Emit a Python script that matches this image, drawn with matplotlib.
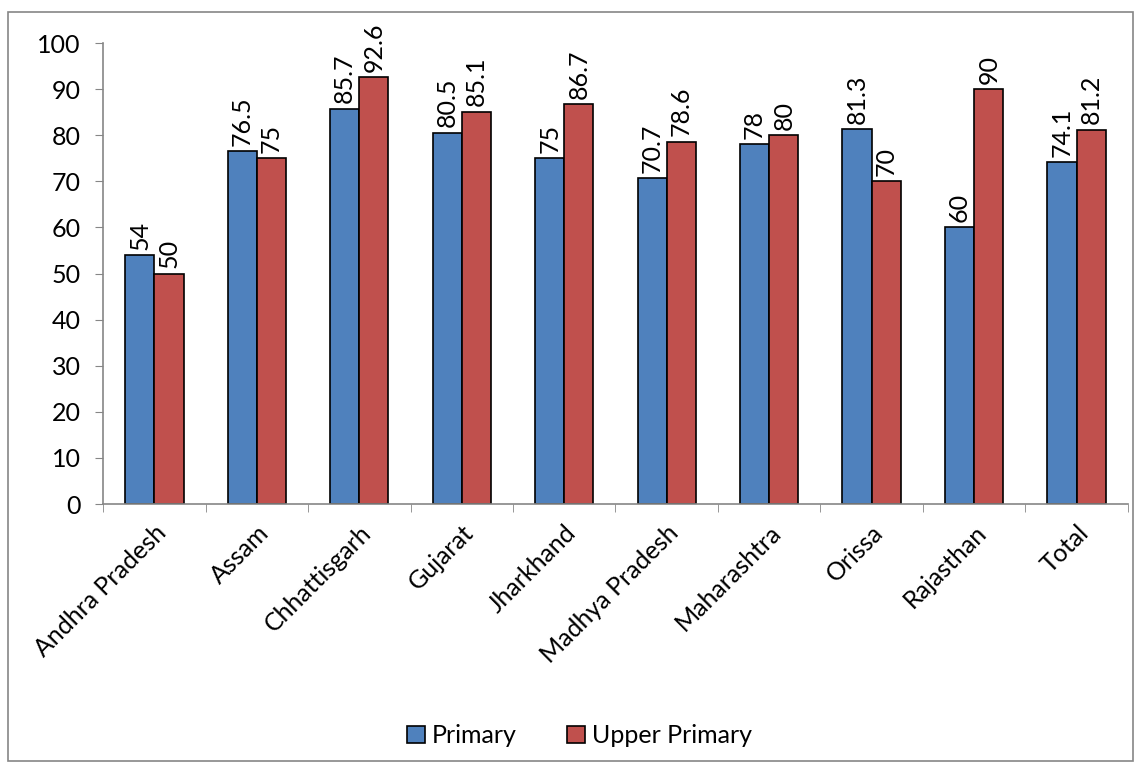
import matplotlib
matplotlib.use("Agg")
import matplotlib.pyplot as plt
import numpy as np
from matplotlib.patches import Rectangle

states = ["Andhra Pradesh", "Assam", "Chhattisgarh", "Gujarat", "Jharkhand",
          "Madhya Pradesh", "Maharashtra", "Orissa", "Rajasthan", "Total"]
primary = [54, 76.5, 85.7, 80.5, 75, 70.7, 78, 81.3, 60, 74.1]
upper_primary = [50, 75, 92.6, 85.1, 86.7, 78.6, 80, 70, 90, 81.2]
yticks = list(range(0, 101, 10))

plt.rcParams["font.family"] = ["Lato", "DejaVu Sans"]
FS = 18

fig = plt.figure(figsize=(11.4, 7.69), dpi=100)
ax = fig.add_axes([0.0904, 0.3446, 0.899, 0.5994])

x = np.arange(len(states))
w = 0.285
b1 = ax.bar(x - w / 2, primary, w, color="#4f81bd", edgecolor="black", lw=1.2, label="Primary")
b2 = ax.bar(x + w / 2, upper_primary, w, color="#c0504d", edgecolor="black", lw=1.2, label="Upper Primary")

def fmt(v):
    return f"{v:g}"

for bars, vals in ((b1, primary), (b2, upper_primary)):
    for r, v in zip(bars, vals):
        ax.annotate(fmt(v), (r.get_x() + r.get_width() / 2, v), xytext=(0, 4),
                    textcoords="offset points", rotation=90, ha="center", va="bottom",
                    fontsize=FS)

ax.set_xlim(-0.5, len(states) - 0.5)
ax.set_ylim(0, 100)
ax.set_yticks(yticks)
ax.set_xticks(x)
ax.set_xticklabels(states, rotation=45, ha="right", rotation_mode="anchor", fontsize=FS)
ax.tick_params(axis="y", labelsize=FS, length=6, color="#868686", direction="out", pad=10)
ax.tick_params(axis="x", length=0, pad=12)
# category boundary tick marks
ax.set_xticks(np.arange(-0.5, len(states), 1), minor=True)
ax.tick_params(axis="x", which="minor", length=6, color="#868686")
for s in ("top", "right"):
    ax.spines[s].set_visible(False)
for s in ("left", "bottom"):
    ax.spines[s].set_color("#868686")
    ax.spines[s].set_linewidth(1.2)

leg = ax.legend(loc="center", bbox_to_anchor=(0.465, -0.503), ncol=2, frameon=False,
                fontsize=FS, handlelength=0.7, handleheight=0.7, columnspacing=2.0,
                handletextpad=0.3)

fig.patches.append(Rectangle((8 / 1140, 8 / 769), 1125 / 1140, 749 / 769,
                             transform=fig.transFigure, fill=False,
                             edgecolor="#868686", lw=1.2))

fig.savefig("out.png", dpi=100)
